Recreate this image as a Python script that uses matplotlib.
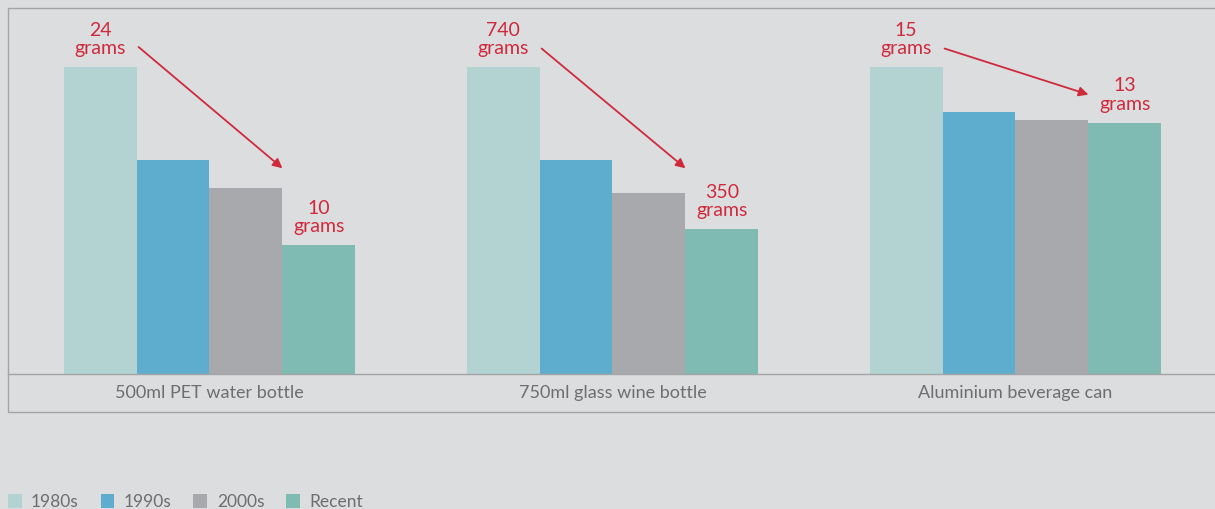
import numpy as np
import matplotlib
matplotlib.use('Agg')
import matplotlib.pyplot as plt
from matplotlib.patches import Patch, Rectangle

# Data: bar heights as percentage of the 1980s weight
categories = ['500ml PET water bottle', '750ml glass wine bottle', 'Aluminium beverage can']
periods = ['1980s', '1990s', '2000s', 'Recent']
values = {
    '1980s': [100, 100, 100],
    '1990s': [69.6, 69.7, 85.4],
    '2000s': [60.7, 59.1, 82.7],
    'Recent': [42.0, 47.2, 81.8],
}
start_labels = ['24\ngrams', '740\ngrams', '15\ngrams']
end_labels = ['10\ngrams', '350\ngrams', '13\ngrams']

colors = ['#b2d3d2', '#5eadcf', '#a8a9ac', '#80bbb3']
bg = '#dcdddf'
red = '#cf2a3c'
grey_text = '#6d6e70'
frame = '#a3a4a6'

plt.rcParams['font.family'] = ['Lato', 'DejaVu Sans']

W, H = 1215, 509
fig = plt.figure(figsize=(W / 100, H / 100), dpi=100)
fig.patch.set_facecolor(bg)

ax = fig.add_axes([8 / W, 1 - 374 / H, 1209 / W, 366 / H])
ax.set_facecolor('none')

x = np.arange(len(categories))
width = 0.181
offsets = (np.arange(len(periods)) - 1.5) * width
for i, p in enumerate(periods):
    ax.bar(x + offsets[i], values[p], width=width, color=colors[i], linewidth=0)

ax.set_xlim(-0.5, 2.5)
ax.set_ylim(0, 119.2)
for s in ['top', 'left', 'right']:
    ax.spines[s].set_visible(False)
ax.spines['bottom'].set_color(frame)
ax.spines['bottom'].set_linewidth(1)
ax.set_yticks([])
ax.set_xticks(x, categories)
ax.tick_params(axis='x', length=0, pad=8, labelsize=13, labelcolor=grey_text)

# weight annotations and arrows
arrow_start = [106.5, 106.0, 106.0]
arrow_tip = [67.0, 67.0, 91.0]
for j in range(len(categories)):
    first = values[periods[0]][j]
    last = values[periods[-1]][j]
    ax.annotate(start_labels[j], (x[j] + offsets[0], first), xytext=(0, 7),
                textcoords='offset points', ha='center', va='bottom',
                color=red, fontsize=14, linespacing=1.12)
    ax.annotate(end_labels[j], (x[j] + offsets[-1], last), xytext=(0, 7),
                textcoords='offset points', ha='center', va='bottom',
                color=red, fontsize=14, linespacing=1.12)
    ax.annotate('', xy=(x[j] + offsets[-1] - width / 2, arrow_tip[j]),
                xytext=(x[j] + offsets[0] + width / 2 + 0.005, arrow_start[j]),
                arrowprops=dict(arrowstyle='-|>', color=red, lw=1.3,
                                mutation_scale=14, shrinkA=0, shrinkB=0))

# outer frame
fig.add_artist(Rectangle((8 / W, 1 - 412 / H), 1.0, (412 - 8) / H,
                         transform=fig.transFigure, fill=False,
                         edgecolor=frame, linewidth=1))

handles = [Patch(facecolor=c, edgecolor='none') for c in colors]
leg = fig.legend(handles, periods, loc='lower left', bbox_to_anchor=(0.002, -0.012),
                 ncol=4, frameon=False, fontsize=12.5, handlelength=0.8,
                 handleheight=0.8, handletextpad=0.55, columnspacing=1.25,
                 borderaxespad=0.2, borderpad=0.1)
for t in leg.get_texts():
    t.set_color(grey_text)

fig.savefig('out.png', dpi=100, facecolor=bg)
